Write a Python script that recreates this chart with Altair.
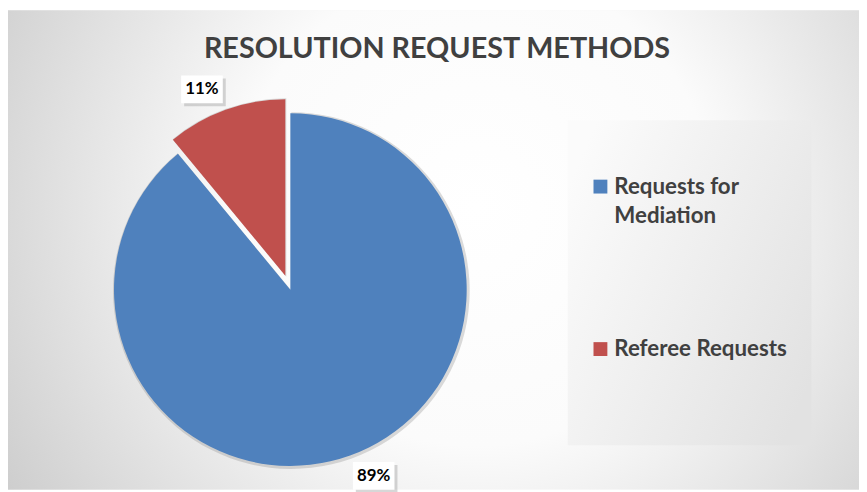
import altair as alt
import pandas as pd

# ---- data ----
categories = ["Requests for Mediation", "Referee Requests"]
values = [89, 11]
legend_lines = ["Requests for\nMediation", "Referee Requests"]
explode_flags = [0, 1]
colors = ["#4F81BD", "#C0504D"]
title_text = "RESOLUTION REQUEST METHODS"

# ---- layout (pixels inside the view) ----
W, H = 859, 484
CX, CY, R = 285, 282, 178
EXPLODE = 15
LABEL_R = 206
LABEL_SHIFT_DEG = -4.3   # label placement nudge (style)
LEG_X = 598

df = pd.DataFrame({
    "category": categories,
    "value": values,
    "explode": explode_flags,
    "legend": legend_lines,
    "order": list(range(len(categories))),
})

color_scale = alt.Scale(domain=categories, range=colors)

base = (
    alt.Chart(df)
    .transform_joinaggregate(total="sum(value)")
    .transform_window(cum="sum(value)", sort=[alt.SortField("order")], frame=[None, 0])
    .transform_calculate(
        start="2*PI*(datum.cum - datum.value)/datum.total",
        end="2*PI*datum.cum/datum.total",
    )
    .transform_calculate(mid="(datum.start + datum.end)/2")
    .transform_calculate(
        cx=f"{CX} + datum.explode*{EXPLODE}*sin(datum.mid)",
        cy=f"{CY} - datum.explode*{EXPLODE}*cos(datum.mid)",
    )
    .transform_calculate(la=f"datum.mid + ({LABEL_SHIFT_DEG})*PI/180")
    .transform_calculate(
        lx=f"datum.cx + {LABEL_R}*sin(datum.la)",
        ly=f"datum.cy - {LABEL_R}*cos(datum.la)",
        pct="format(datum.value/datum.total, '.0%')",
    )
)

bg_data = alt.Data(values=[{"k": 1}])

background = alt.Chart(bg_data).mark_rect(
    fill={
        "gradient": "radial",
        "x1": 0.55, "y1": 0.45, "r1": 0,
        "x2": 0.55, "y2": 0.45, "r2": 0.8,
        "stops": [
            {"offset": 0, "color": "#ffffff"},
            {"offset": 0.35, "color": "#fbfbfb"},
            {"offset": 1, "color": "#bababa"},
        ],
    },
    stroke=None,
).encode(x=alt.value(0), x2=alt.value(W), y=alt.value(0), y2=alt.value(H))

title = alt.Chart(alt.Data(values=[{"t": title_text}])).mark_text(
    font="Lato", fontWeight="bold", fontSize=29, color="#404040",
    align="center", baseline="alphabetic",
).encode(x=alt.value(433), y=alt.value(48), text="t:N")

shadow = base.mark_arc(color="#7f7f7f", opacity=0.28, stroke=None).encode(
    x=alt.X("sx:Q", scale=None),
    y=alt.Y("sy:Q", scale=None),
    theta=alt.Theta("start:Q", scale=None, stack=None),
    theta2="end:Q",
    radius=alt.value(R + 2),
).transform_calculate(sx="datum.cx + 1", sy="datum.cy + 1")

pie = base.mark_arc(stroke=None).encode(
    x=alt.X("cx:Q", scale=None),
    y=alt.Y("cy:Q", scale=None),
    theta=alt.Theta("start:Q", scale=None, stack=None),
    theta2="end:Q",
    radius=alt.value(R),
    color=alt.Color("category:N", scale=color_scale, legend=None),
)

box_shadow = base.mark_rect(color="#9a9a9a", opacity=0.4).encode(
    x=alt.X("bx1:Q", scale=None), x2="bx2:Q",
    y=alt.Y("by1:Q", scale=None), y2="by2:Q",
).transform_calculate(
    bx1="datum.lx - 18", bx2="datum.lx + 24",
    by1="datum.ly - 11", by2="datum.ly + 17",
)

box = base.mark_rect(color="#ffffff").encode(
    x=alt.X("bx1:Q", scale=None), x2="bx2:Q",
    y=alt.Y("by1:Q", scale=None), y2="by2:Q",
).transform_calculate(
    bx1="datum.lx - 21", bx2="datum.lx + 21",
    by1="datum.ly - 14", by2="datum.ly + 14",
)

labels = base.mark_text(
    font="Lato", fontWeight="bold", fontSize=17, color="#000000",
    align="center", baseline="middle",
).encode(
    x=alt.X("lx:Q", scale=None),
    y=alt.Y("ly:Q", scale=None),
    text="pct:N",
)

# legend panel
legend_bg = alt.Chart(bg_data).mark_rect(
    fill={
        "gradient": "linear",
        "x1": 0, "y1": 0.2, "x2": 1, "y2": 0.8,
        "stops": [
            {"offset": 0, "color": "#fbfbfb"},
            {"offset": 1, "color": "#e2e2e2"},
        ],
    },
    stroke=None,
).encode(x=alt.value(LEG_X - 33), x2=alt.value(LEG_X + 213),
         y=alt.value(111), y2=alt.value(439))

leg_base = alt.Chart(df).transform_calculate(
    ly="178 + 164*datum.order"
)

legend_sym = leg_base.mark_point(shape="square", filled=True, size=196, opacity=1).encode(
    x=alt.value(LEG_X),
    y=alt.Y("ly:Q", scale=None),
    color=alt.Color("category:N", scale=color_scale, legend=None),
)

legend_txt = leg_base.mark_text(
    font="Lato", fontWeight="bold", fontSize=22.5, color="#404040",
    align="left", baseline="alphabetic", dy=7, lineBreak="\n", lineHeight=30,
).encode(
    x=alt.value(LEG_X + 14),
    y=alt.Y("ly:Q", scale=None),
    text="legend:N",
)

chart = alt.layer(
    background, title, legend_bg, shadow, pie, box_shadow, box, labels,
    legend_sym, legend_txt,
).properties(
    width=W, height=H,
    autosize=alt.AutoSizeParams(type="none"),
    padding=0,
).configure_view(stroke=None)

chart.save("out.html", embed_options={"renderer": "svg", "actions": False})
